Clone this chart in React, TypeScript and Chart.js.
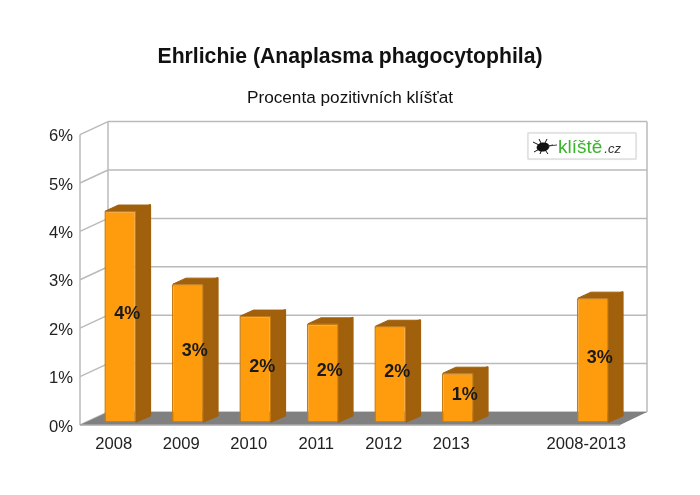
import React, { useEffect, useRef } from "react";
import { Chart, registerables } from "chart.js";

Chart.register(...registerables);

const categories = ["2008", "2009", "2010", "2011", "2012", "2013", "", "2008-2013"];
const positivePercent = [4.35, 2.84, 2.18, 2.02, 1.97, 1.0, null, 2.55];
const titleText = "Ehrlichie (Anaplasma phagocytophila)";
const subtitleText = "Procenta pozitivních klíšťat";
const logoName = "klíště";
const logoDomain = ".cz";

const FONT = "'Liberation Sans', Arial, sans-serif";
const WALL_DX = 28;
const WALL_DX_RIGHT = 27;
const WALL_DY = -13;
const BAR_SHIFT_X = 6.5;
const BAR_SHIFT_Y = -3.4;
const BAR_DX = 14;
const BAR_DY = -6;
const GRID = "#BABABA";

function poly(ctx: CanvasRenderingContext2D, pts: number[][], fill?: string, stroke?: string, lw = 1) {
  ctx.beginPath();
  pts.forEach((p, i) => (i ? ctx.lineTo(p[0], p[1]) : ctx.moveTo(p[0], p[1])));
  ctx.closePath();
  if (fill) {
    ctx.fillStyle = fill;
    ctx.fill();
  }
  if (stroke) {
    ctx.strokeStyle = stroke;
    ctx.lineWidth = lw;
    ctx.lineJoin = "round";
    ctx.stroke();
  }
}

function line(ctx: CanvasRenderingContext2D, x1: number, y1: number, x2: number, y2: number, color = GRID, lw = 1.5) {
  ctx.beginPath();
  ctx.moveTo(x1, y1);
  ctx.lineTo(x2, y2);
  ctx.strokeStyle = color;
  ctx.lineWidth = lw;
  ctx.stroke();
}

const scene3d = {
  id: "scene3d",
  beforeDatasetsDraw(chart: any) {
    const { ctx, chartArea: a, scales } = chart;
    const y = scales.y;
    ctx.save();
    // walls and grid
    y.ticks.forEach((t: any) => {
      const py = y.getPixelForValue(t.value);
      line(ctx, a.left, py, a.left + WALL_DX, py + WALL_DY);
      line(ctx, a.left + WALL_DX, py + WALL_DY, a.right + WALL_DX_RIGHT, py + WALL_DY);
    });
    line(ctx, a.left, a.top, a.left, a.bottom);
    line(ctx, a.left + WALL_DX, a.top + WALL_DY, a.left + WALL_DX, a.bottom + WALL_DY);
    line(ctx, a.right + WALL_DX_RIGHT, a.top + WALL_DY, a.right + WALL_DX_RIGHT, a.bottom + WALL_DY);
    // floor
    poly(ctx, [
      [a.left, a.bottom],
      [a.right, a.bottom],
      [a.right + WALL_DX_RIGHT, a.bottom + WALL_DY],
      [a.left + WALL_DX, a.bottom + WALL_DY],
    ], "#808080");
    line(ctx, a.left, a.bottom, a.right, a.bottom, "#A8A8A8", 1.5);

    // logo
    const lx = 528, ly = 133, lw = 108, lh = 26;
    ctx.shadowColor = "rgba(0,0,0,0.12)";
    ctx.shadowBlur = 2;
    ctx.fillStyle = "#fff";
    ctx.fillRect(lx, ly, lw, lh);
    ctx.shadowBlur = 0;
    ctx.strokeStyle = "#CFCFCF";
    ctx.lineWidth = 1;
    ctx.strokeRect(lx, ly, lw, lh);
    ctx.fillStyle = "#111";
    ctx.beginPath();
    ctx.ellipse(lx + 15, ly + 14, 6.5, 4.5, -0.2, 0, Math.PI * 2);
    ctx.fill();
    ctx.strokeStyle = "#111";
    ctx.lineWidth = 1;
    [[-10, -5], [-9, 5], [-4, -8], [-3, 7], [4, -8], [5, 7], [10, -2]].forEach(([dx, dy]) => {
      ctx.beginPath();
      ctx.moveTo(lx + 15, ly + 14);
      ctx.lineTo(lx + 15 + dx, ly + 14 + dy);
      ctx.stroke();
    });
    line(ctx, lx + 20, ly + 13, lx + 29, ly + 12, "#444", 1);
    ctx.textBaseline = "alphabetic";
    ctx.textAlign = "left";
    ctx.fillStyle = "#3CB52C";
    ctx.font = `19px ${FONT}`;
    ctx.fillText(logoName, lx + 30, ly + 20);
    const w = ctx.measureText(logoName).width;
    ctx.fillStyle = "#333";
    ctx.font = `italic 13px ${FONT}`;
    ctx.fillText(logoDomain, lx + 30 + w + 2, ly + 20);

    // 3D sides of the bars
    chart.getDatasetMeta(0).data.forEach((el: any, i: number) => {
      if (positivePercent[i] == null) return;
      const p = el.getProps(["x", "y", "base", "width"], true);
      const l = p.x - p.width / 2 + BAR_SHIFT_X;
      const r = p.x + p.width / 2 + BAR_SHIFT_X;
      const t = p.y + BAR_SHIFT_Y;
      const b = p.base + BAR_SHIFT_Y;
      const dark = "#A1600C";
      poly(ctx, [[r, t], [r + BAR_DX, t + BAR_DY], [r + BAR_DX, b + BAR_DY], [r, b]], dark, dark, 2);
      poly(ctx, [[l + 1, t], [l + BAR_DX, t + BAR_DY], [r + BAR_DX, t + BAR_DY], [r, t]], dark, dark, 1);
    });
    ctx.restore();
    ctx.save();
    ctx.translate(BAR_SHIFT_X, BAR_SHIFT_Y);
  },
  afterDatasetsDraw(chart: any) {
    const { ctx } = chart;
    ctx.restore();
    ctx.save();
    ctx.font = `bold 18px ${FONT}`;
    ctx.fillStyle = "#1A1A1A";
    ctx.textAlign = "center";
    ctx.textBaseline = "middle";
    chart.getDatasetMeta(0).data.forEach((el: any, i: number) => {
      const v = positivePercent[i];
      if (v == null) return;
      const p = el.getProps(["x", "y", "base"], true);
      ctx.fillText(`${Math.round(v)}%`, p.x + BAR_SHIFT_X + BAR_DX / 2, (p.y + p.base) / 2 + BAR_SHIFT_Y - 2);
    });
    ctx.restore();
  },
};

export default function App() {
  const ref = useRef<HTMLCanvasElement>(null);
  useEffect(() => {
    const chart = new Chart(ref.current as HTMLCanvasElement, {
      type: "bar",
      data: {
        labels: categories,
        datasets: [
          {
            data: positivePercent as any,
            backgroundColor: "#FF9C0E",
            borderColor: "#C57C12",
            borderWidth: 1.5,
            categoryPercentage: 1,
            barPercentage: 0.47,
            clip: false as any,
          },
        ],
      },
      options: {
        responsive: false,
        animation: false,
        layout: { padding: 0 },
        plugins: {
          legend: { display: false },
          tooltip: { enabled: false },
          title: {
            display: true,
            text: titleText,
            color: "#111",
            font: { family: FONT, size: 21.2, weight: "bold" },
            padding: { top: 44, bottom: 10 },
          },
          subtitle: {
            display: true,
            text: subtitleText,
            color: "#111",
            font: { family: FONT, size: 17.2, weight: "normal" },
            padding: { top: 8.5, bottom: 26 },
          },
        },
        scales: {
          x: {
            grid: { display: false, drawTicks: false },
            border: { display: false },
            ticks: { color: "#222", font: { family: FONT, size: 16.6 }, padding: 9, maxRotation: 0, autoSkip: false },
            afterFit: (s: any) => {
              s.height = 70;
            },
          },
          y: {
            min: 0,
            max: 6,
            grid: { display: false, drawTicks: false },
            border: { display: false },
            ticks: {
              stepSize: 1,
              color: "#222",
              font: { family: FONT, size: 16.6 },
              padding: 7,
              labelOffset: 2,
              callback: (v: any) => `${v}%`,
            },
            afterFit: (s: any) => {
              s.width = 80;
            },
          },
          yRightSpace: {
            axis: "y",
            position: "right",
            min: 0,
            max: 6,
            grid: { display: false, drawTicks: false },
            border: { display: false },
            ticks: { display: false },
            afterFit: (s: any) => {
              s.width = 80;
            },
          },
        },
      },
      plugins: [scene3d],
    } as any);
    return () => chart.destroy();
  }, []);
  return (
    <div style={{ position: "absolute", left: 0, top: 0, width: 700, height: 495, background: "#fff" }}>
      <canvas ref={ref} width={700} height={495} style={{ display: "block" }} />
    </div>
  );
}
